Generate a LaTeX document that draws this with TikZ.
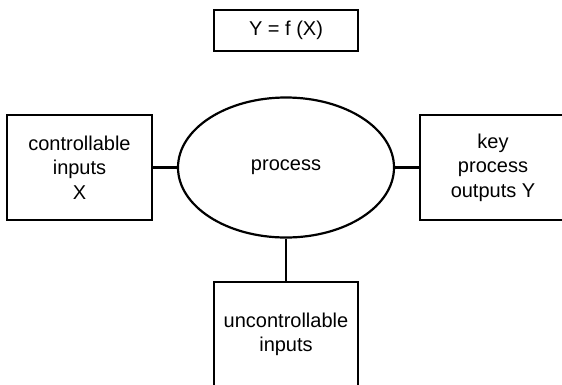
\documentclass[tikz,border=0pt]{standalone}
\usepackage{fontspec}
\setmainfont{Liberation Sans}
\usetikzlibrary{shapes.geometric}

\begin{document}
\begin{tikzpicture}[x=1pt,y=-1pt,
    line width=2.2pt,
    box/.style={draw,rectangle,inner sep=0pt,minimum width=145pt,
      minimum height=105pt,align=center,font=\fontsize{20}{24.5}\selectfont},
    procshape/.style={draw,ellipse,inner sep=0pt,minimum width=216pt,
      minimum height=140pt,font=\fontsize{20}{24.5}\selectfont}]
    \useasboundingbox (0,0) rectangle (562,384);
    \clip (0,0) rectangle (562,384);

    % formula on top
    \node[box,minimum width=144pt,minimum height=41pt] (formula) at (286,30.5) {Y = f (X)};

    \node[box] (ctrlIn) at (79.5,167.5) {controllable\\inputs\\X};
    \node[procshape] (process) at (286,167.5) {process};
    \node[box,minimum width=146pt] (keyOut) at (493,167.5) {key\\process\\outputs Y};
    \node[box,minimum width=144pt] (unctrlIn) at (286,334.5) {uncontrollable\\inputs};

    \draw (ctrlIn) -- (process);
    \draw (process) -- (keyOut);
    \draw (process) -- (unctrlIn);
\end{tikzpicture}
\end{document}
